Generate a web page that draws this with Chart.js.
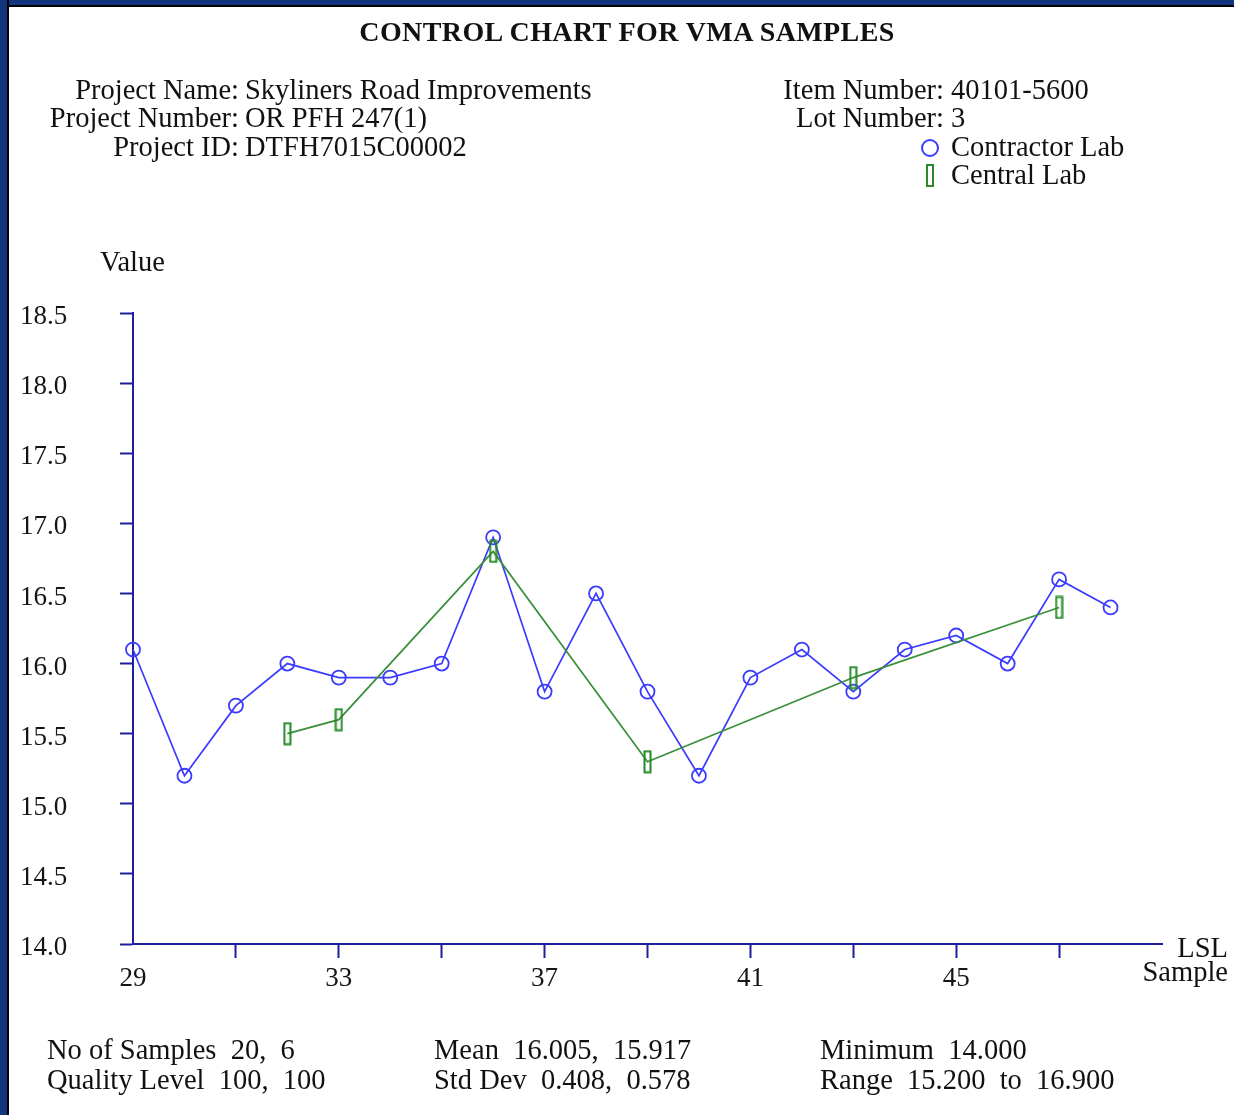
<!DOCTYPE html>
<html>
<head>
<meta charset="utf-8">
<script src="https://cdn.jsdelivr.net/npm/chart.js@4/dist/chart.umd.min.js"></script>
<style>
  body { margin: 0; background: #fff; font-family: "Liberation Serif", "DejaVu Serif", serif; color: #111; }
  #page { position: relative; width: 1234px; height: 1115px; overflow: hidden; background: #fff; }
  .frameTop { position: absolute; left: 0; top: 0; width: 1234px; height: 5px; background: #12357e; border-bottom: 2px solid #000; }
  .frameLeft { position: absolute; left: 0; top: 0; width: 7px; height: 1115px; background: #12357e; border-right: 2px solid #000; }
  .t { position: absolute; font-size: 28.5px; line-height: 28px; white-space: nowrap; }
  .r { text-align: right; }
  .foot { position: absolute; font-size: 28.5px; line-height: 30px; white-space: nowrap; }
  canvas { position: absolute; left: 0; top: 0; }
</style>
</head>
<body>
<div id="page">
  <canvas id="controlChart" width="1234" height="1115"></canvas>
  <div class="frameTop"></div>
  <div class="frameLeft"></div>

  <div class="t" style="left:0;width:1254px;top:18px;text-align:center;font-weight:bold;font-size:28px;letter-spacing:0.4px">CONTROL CHART FOR VMA SAMPLES</div>

  <div class="t r" style="left:0;width:239px;top:76px">Project Name:</div>
  <div class="t" style="left:245px;top:76px">Skyliners Road Improvements</div>
  <div class="t r" style="left:0;width:239px;top:104px">Project Number:</div>
  <div class="t" style="left:245px;top:104px">OR PFH 247(1)</div>
  <div class="t r" style="left:0;width:239px;top:133px">Project ID:</div>
  <div class="t" style="left:245px;top:133px">DTFH7015C00002</div>

  <div class="t r" style="left:600px;width:344px;top:76px">Item Number:</div>
  <div class="t" style="left:951px;top:76px">40101-5600</div>
  <div class="t r" style="left:600px;width:344px;top:104px">Lot Number:</div>
  <div class="t" style="left:951px;top:104px">3</div>

  <div style="position:absolute;left:921px;top:139px;width:14px;height:14px;border:2px solid #3b3bff;border-radius:50%"></div>
  <div class="t" style="left:951px;top:133px">Contractor Lab</div>
  <div style="position:absolute;left:926px;top:164px;width:4px;height:19px;border:2px solid #2a8a2a"></div>
  <div class="t" style="left:951px;top:161px">Central Lab</div>

  <div class="t" style="left:100px;top:248px">Value</div>
  <div class="t r" style="left:1000px;width:228px;top:934px">LSL</div>
  <div class="t r" style="left:1000px;width:228px;top:958px">Sample</div>

  <div class="foot" style="left:47px;top:1035px">No of Samples&nbsp; 20,&nbsp; 6</div>
  <div class="foot" style="left:47px;top:1065px">Quality Level&nbsp; 100,&nbsp; 100</div>
  <div class="foot" style="left:434px;top:1035px">Mean&nbsp; 16.005,&nbsp; 15.917</div>
  <div class="foot" style="left:434px;top:1065px">Std Dev&nbsp; 0.408,&nbsp; 0.578</div>
  <div class="foot" style="left:820px;top:1035px">Minimum&nbsp; 14.000</div>
  <div class="foot" style="left:820px;top:1065px">Range&nbsp; 15.200&nbsp; to&nbsp; 16.900</div>
</div>

<script>
// sample numbers and test results
var contractorSamples = [29, 30, 31, 32, 33, 34, 35, 36, 37, 38, 39, 40, 41, 42, 43, 44, 45, 46, 47, 48];
var contractorValues = [16.1, 15.2, 15.7, 16.0, 15.9, 15.9, 16.0, 16.9, 15.8, 16.5, 15.8, 15.2, 15.9, 16.1, 15.8, 16.1, 16.2, 16.0, 16.6, 16.4];

var centralSamples = [32, 33, 36, 39, 43, 47];
var centralValues = [15.5, 15.6, 16.8, 15.3, 15.9, 16.4];

// axis ticks
var xTicks = [29, 31, 33, 35, 37, 39, 41, 43, 45, 47];
var xLabels = [29, 33, 37, 41, 45];
var yTicks = [14.0, 14.5, 15.0, 15.5, 16.0, 16.5, 17.0, 17.5, 18.0, 18.5];

var axisColor = "#1f1f9e";
var textColor = "#151515";

function toPoints(xs, ys) {
    return xs.map(function (x, i) { return { x: x, y: ys[i] }; });
}

// narrow tall box used as the central lab marker
var boxMark = document.createElement("canvas");
boxMark.width = 9;
boxMark.height = 24;
var bctx = boxMark.getContext("2d");
bctx.strokeStyle = "#238a23";
bctx.lineWidth = 2;
bctx.strokeRect(1.5, 1.5, 6, 21);

var ctx = document.getElementById("controlChart").getContext("2d");
var chart = new Chart(ctx, {
    type: "line",
    data: {
        datasets: [{
            label: "Central Lab",
            data: toPoints(centralSamples, centralValues),
            borderColor: "#3a8f3a",
            borderWidth: 1.7,
            pointStyle: boxMark,
            pointRadius: 6,
            clip: false,
            tension: 0
        }, {
            label: "Contractor Lab",
            data: toPoints(contractorSamples, contractorValues),
            borderColor: "#3b3bff",
            borderWidth: 1.7,
            pointStyle: "circle",
            pointRadius: 7,
            pointBorderWidth: 1.8,
            pointBorderColor: "#3b3bff",
            pointBackgroundColor: "rgba(255,255,255,0)",
            clip: false,
            tension: 0
        }]
    },
    options: {
        responsive: false,
        animation: false,
        layout: { padding: { left: 20, top: 313, right: 72, bottom: 111 } },
        plugins: { legend: { display: false }, tooltip: { enabled: false } },
        scales: {
            x: {
                type: "linear",
                min: 29,
                max: 49,
                afterBuildTicks: function (scale) {
                    scale.ticks = xTicks.map(function (v) { return { value: v }; });
                },
                afterFit: function (scale) { scale.height = 60; },
                border: { color: axisColor, width: 2 },
                grid: {
                    drawOnChartArea: false,
                    tickLength: 14,
                    tickWidth: 2,
                    tickColor: function (c) { return c.tick && c.tick.value === 29 ? "rgba(0,0,0,0)" : axisColor; }
                },
                ticks: {
                    autoSkip: false,
                    maxRotation: 0,
                    padding: 5,
                    color: textColor,
                    font: { family: "Liberation Serif", size: 27 },
                    callback: function (v) { return xLabels.indexOf(v) >= 0 ? String(v) : ""; }
                }
            },
            y: {
                min: 14,
                max: 18.5,
                afterBuildTicks: function (scale) {
                    scale.ticks = yTicks.map(function (v) { return { value: v }; });
                },
                afterFit: function (scale) { scale.width = 113; },
                border: { color: axisColor, width: 2 },
                grid: { drawOnChartArea: false, tickLength: 13, tickWidth: 2, tickColor: axisColor },
                ticks: {
                    crossAlign: "far",
                    labelOffset: 4,
                    color: textColor,
                    font: { family: "Liberation Serif", size: 27 },
                    callback: function (v) { return v.toFixed(1); }
                }
            }
        }
    }
});
</script>
</body>
</html>
